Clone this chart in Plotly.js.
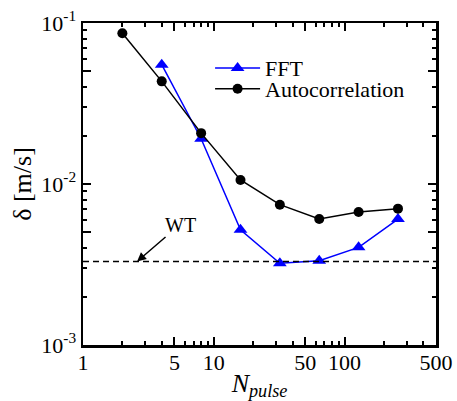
<!DOCTYPE html>
<html>
<head>
<script src="https://cdn.plot.ly/plotly-3.0.1.min.js"></script>
</head>
<body style="margin:0">
<div id="chart" style="width:457px;height:401px"></div>
<script>
// Number of pulses used for the estimate
const nPulse = [2, 4, 8, 16, 32, 64, 128, 256];

// Velocity uncertainty delta [m/s] for each method
const fftN = [4, 8, 16, 32, 64, 128, 256];
const fftDelta = [0.0551, 0.0191, 0.0052, 0.00322, 0.00334, 0.00404, 0.00606];
const autoDelta = [0.0863, 0.0434, 0.0207, 0.0106, 0.00744, 0.00606, 0.0067, 0.00703];

// Reference level for the WT estimate
const wtDelta = 0.0033;
const wtArrowN = 2.59;

// Axis ticks
const xMajor = [1, 5, 10, 50, 100, 500];
const xMajorText = ['1', '5', '10', '50', '100', '500'];
const xMinor = [2, 3, 4, 6, 7, 8, 9, 20, 30, 40, 60, 70, 80, 90, 200, 300, 400];
const yMajor = [0.001, 0.005, 0.01, 0.05, 0.1];
const yMajorText = ['10<sup>-3</sup>', '', '10<sup>-2</sup>', '', '10<sup>-1</sup>'];
const yMinor = [0.002, 0.003, 0.004, 0.006, 0.007, 0.008, 0.009,
                0.02, 0.03, 0.04, 0.06, 0.07, 0.08, 0.09];

const traces = [
  {
    x: fftN, y: fftDelta, name: 'FFT', type: 'scatter', mode: 'lines+markers',
    legend: 'legend',
    line: { color: '#0000ff', width: 1.5 },
    marker: { symbol: 'triangle-up', size: 12, color: '#0000ff' }
  },
  {
    x: nPulse, y: autoDelta, name: 'Autocorrelation', type: 'scatter', mode: 'lines+markers',
    legend: 'legend2',
    line: { color: '#000000', width: 1.5 },
    marker: { symbol: 'circle', size: 10, color: '#000000' }
  }
];

const axisCommon = {
  type: 'log',
  showgrid: false, zeroline: false,
  showline: true, linecolor: '#000', linewidth: 2.5, mirror: 'allticks',
  ticks: 'inside', ticklen: 8, tickwidth: 2, tickcolor: '#000',
  tickmode: 'array'
};

const legendCommon = {
  xanchor: 'left', yanchor: 'middle',
  bgcolor: 'rgba(0,0,0,0)', borderwidth: 0,
  itemwidth: 45
};

const layout = {
  width: 457, height: 401,
  margin: { l: 83, r: 21, t: 23, b: 56 },
  paper_bgcolor: '#fff', plot_bgcolor: '#fff',
  font: { family: 'Liberation Serif', size: 22, color: '#000' },
  showlegend: true,
  legend: Object.assign({}, legendCommon, { x: 0.36, y: 0.86 }),
  legend2: Object.assign({}, legendCommon, { x: 0.36, y: 0.795 }),
  xaxis: Object.assign({}, axisCommon, {
    range: [0, Math.log10(500)],
    tickvals: xMajor, ticktext: xMajorText,
    ticklabelstandoff: -4,
    minor: { tickmode: 'array', tickvals: xMinor, ticks: 'inside', ticklen: 4, tickwidth: 2, tickcolor: '#000', showgrid: false },
    title: { text: '<i>N</i><sub><i>pulse</i></sub>', standoff: 6 }
  }),
  yaxis: Object.assign({}, axisCommon, {
    range: [-3, -1],
    tickvals: yMajor, ticktext: yMajorText,
    minor: { tickmode: 'array', tickvals: yMinor, ticks: 'inside', ticklen: 4, tickwidth: 2, tickcolor: '#000', showgrid: false },
    title: { text: '\u03b4 [m/s]', standoff: 2 }
  }),
  shapes: [
    {
      type: 'line', xref: 'paper', yref: 'y',
      x0: 0, x1: 1, y0: wtDelta, y1: wtDelta,
      line: { color: '#000', width: 1.5, dash: '6px,4px' }
    }
  ],
  annotations: [
    {
      x: Math.log10(wtArrowN), y: Math.log10(wtDelta), xref: 'x', yref: 'y',
      text: 'WT', showarrow: true, arrowhead: 2, arrowsize: 1.2, arrowwidth: 1.5,
      arrowcolor: '#000', ax: 43, ay: -37, standoff: 0,
      font: { size: 20 }
    }
  ]
};

Plotly.newPlot('chart', traces, layout, { staticPlot: true }).then(function (gd) {
  // Make sure every label of the figure uses the serif face
  gd.querySelectorAll('text').forEach(function (t) {
    t.style.setProperty('font-family', "'Liberation Serif', 'Times New Roman', serif");
    t.setAttribute('font-family', 'Liberation Serif');
  });
});
</script>
</body>
</html>
